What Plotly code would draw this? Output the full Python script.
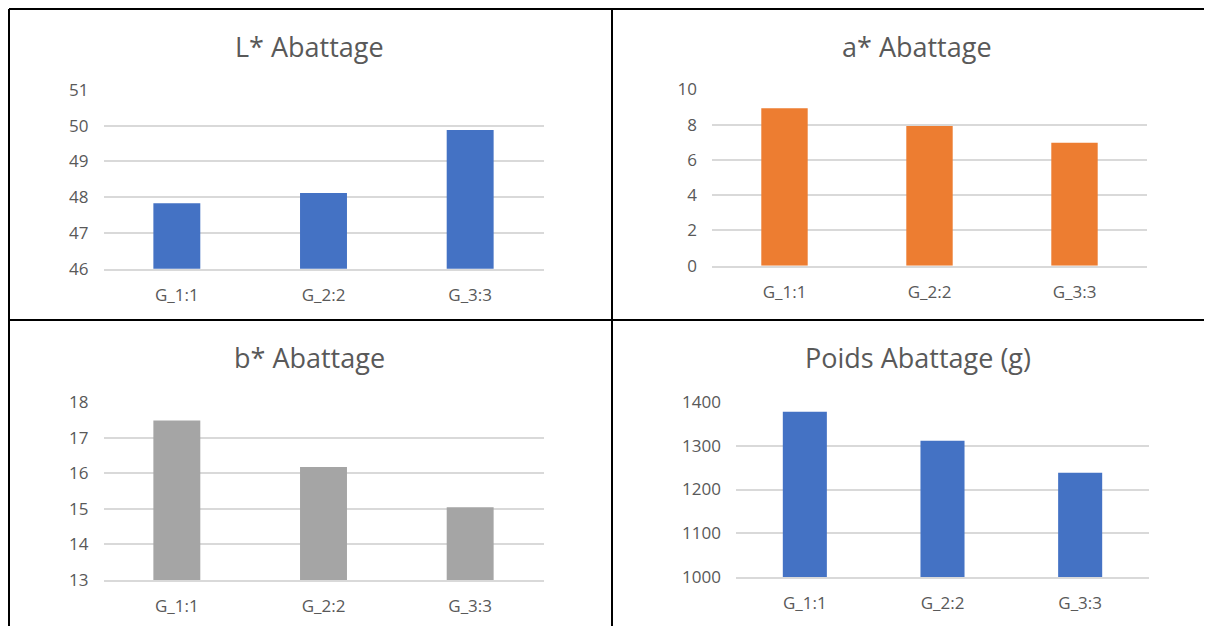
import plotly.graph_objects as go

OFF = 8  # page body margin in the viewer
W, H = 1212 - OFF, 626 - OFF

categories = ["G_1:1", "G_2:2", "G_3:3"]
l_values = [47.83, 48.12, 49.88]
a_values = [8.92, 7.92, 6.97]
b_values = [17.49, 16.18, 15.05]
poids_values = [1377, 1311, 1238]

titles = ["L* Abattage", "a* Abattage", "b* Abattage", "Poids Abattage (g)"]
colors = ["#4472C4", "#ED7D31", "#A5A5A5", "#4472C4"]
y_ranges = [[46, 51], [0, 10], [13, 18], [1000, 1400]]
y_dtick = [1, 2, 1, 100]

# page pixel layout: (x0, x1, y_top, y_bottom), title centre (x, y)
panels = [
    ((103.5, 543.5, 90.0, 268.7), (309, 47)),
    ((712, 1147, 89.3, 265.7), (917, 47)),
    ((103.5, 543.5, 402.3, 580.0), (309, 357)),
    ((736, 1149, 401.7, 577.3), (918, 357)),
]
series = [l_values, a_values, b_values, poids_values]


def px(x):
    return (x - OFF) / W


def py(y):
    return 1 - (y - OFF) / H


fig = go.Figure()
FONT = "Open Sans"
TXT = "#595959"
GRID = "#D9D9D9"

layout = dict(
    width=W, height=H,
    margin=dict(l=0, r=0, t=0, b=0, pad=0, autoexpand=False),
    paper_bgcolor="white", plot_bgcolor="white",
    showlegend=False, bargap=0.68,
    font=dict(family=FONT, color=TXT, size=17),
)
annotations = []
for i, (vals, (box, tc)) in enumerate(zip(series, panels)):
    n = i + 1
    xa = "x" if n == 1 else f"x{n}"
    ya = "y" if n == 1 else f"y{n}"
    fig.add_trace(go.Bar(x=categories, y=vals, marker=dict(color=colors[i], line=dict(width=0)),
                         xaxis=xa, yaxis=ya, width=0.32))
    x0, x1, yt, yb = box
    layout["xaxis" if n == 1 else f"xaxis{n}"] = dict(
        domain=[px(x0), px(x1)], anchor=ya, showgrid=False, showline=True,
        linecolor=GRID, linewidth=1.5, ticks="", ticklabelstandoff=10, automargin=False,
        tickfont=dict(family=FONT, color=TXT, size=17), fixedrange=True,
    )
    layout["yaxis" if n == 1 else f"yaxis{n}"] = dict(
        domain=[py(yb), py(yt)], anchor=xa, range=y_ranges[i], dtick=y_dtick[i],
        tick0=y_ranges[i][0], showgrid=True, gridcolor=GRID, gridwidth=1.5, zeroline=False,
        showline=False, ticks="", ticklabelstandoff=14, automargin=False,
        tickfont=dict(family=FONT, color=TXT, size=17), fixedrange=True,
    )
    annotations.append(dict(text=titles[i], x=px(tc[0]), y=py(tc[1]), xref="paper", yref="paper",
                            showarrow=False, xanchor="center", yanchor="middle",
                            font=dict(family=FONT, color=TXT, size=27)))

layout["annotations"] = annotations

shapes = []
for (xa0, ya0, xa1, ya1) in [
    (9, 9, W + OFF, 9),      # top
    (9, 9, 9, H + OFF),      # left
    (612, 9, 612, H + OFF),  # middle vertical
    (9, 320, W + OFF, 320),  # middle horizontal
]:
    shapes.append(dict(type="line", xref="paper", yref="paper", x0=px(xa0), y0=py(ya0),
                       x1=px(xa1), y1=py(ya1), line=dict(color="black", width=2)))
layout["shapes"] = shapes

fig.update_layout(**layout)
fig.write_html("out.html")
